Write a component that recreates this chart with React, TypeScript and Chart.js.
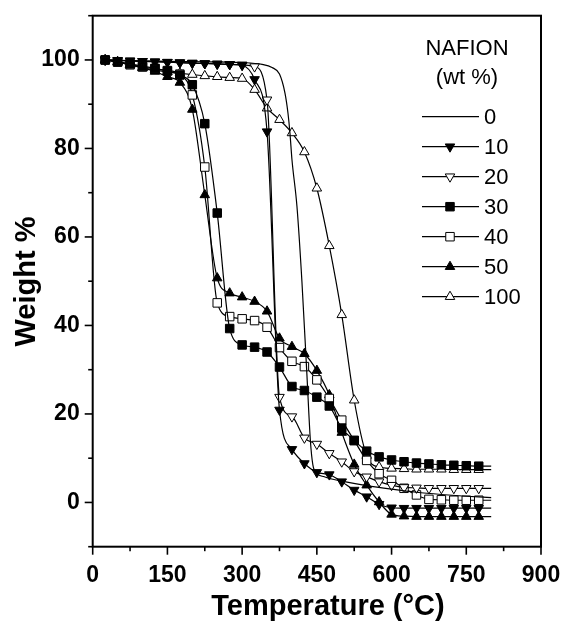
import React, { useEffect, useRef } from 'react';
import { Chart, registerables } from 'chart.js';

Chart.register(...registerables);

// ---------------- data ----------------
const temps = [25, 50, 75, 100, 125, 150, 175, 200, 225, 250, 275, 300, 325, 350, 375, 400, 425, 450, 475, 500, 525, 550, 575, 600, 625, 650, 675, 700, 725, 750, 775, 800];

const wt10 = [100, 99.9, 99.8, 99.7, 99.6, 99.5, 99.4, 99.3, 99.2, 99.1, 99.0, 98.8, 95.6, 83.8, 20.9, 12.0, 8.8, 6.8, 6.3, 4.7, 2.8, 1.3, -0.4, -1.2, -1.3, -1.3, -1.3, -1.3, -1.3, -1.3, -1.3, -1.3];
const wt20 = [100, 99.9, 99.8, 99.7, 99.6, 99.5, 99.4, 99.3, 99.2, 99.1, 99.0, 98.9, 98.5, 91.0, 23.8, 19.4, 14.6, 13.2, 11.1, 9.2, 7.0, 5.8, 4.7, 3.9, 3.4, 3.3, 3.2, 3.2, 3.2, 3.2, 3.2, 3.2];
const wt30 = [100, 99.6, 99.1, 98.6, 98.1, 97.5, 96.6, 94.4, 85.6, 65.4, 39.3, 35.6, 35.1, 34.0, 30.6, 26.2, 25.3, 23.8, 21.8, 16.8, 14.0, 11.6, 10.3, 9.6, 9.2, 8.9, 8.7, 8.5, 8.4, 8.3, 8.2, 8.2];
const wt40 = [100, 99.5, 98.9, 98.4, 98.0, 97.6, 96.8, 92.1, 75.8, 45.1, 42.0, 41.5, 41.1, 39.6, 35.0, 31.9, 30.7, 27.7, 23.5, 18.6, 14.0, 9.5, 6.5, 5.0, 3.2, 1.7, 0.7, 0.6, 0.5, 0.5, 0.5, 0.5];
const wt50 = [100, 99.5, 98.9, 98.2, 97.4, 96.2, 94.9, 88.8, 69.5, 50.7, 47.3, 46.4, 45.4, 43.2, 37.1, 35.2, 33.6, 29.8, 24.3, 15.8, 8.6, 3.9, 0.1, -2.7, -3.1, -3.2, -3.2, -3.2, -3.2, -3.2, -3.2, -3.2];
const wt100 = [100, 99.6, 99.0, 98.3, 97.7, 97.3, 97.0, 96.7, 96.4, 96.2, 96.0, 95.8, 93.3, 89.1, 86.5, 83.5, 79.2, 71.0, 58.0, 42.4, 23.1, 10.6, 8.0, 7.7, 7.6, 7.5, 7.5, 7.5, 7.4, 7.4, 7.4, 7.4];

// 0 wt% curve (line only, no markers)
const temps0 = [25, 100, 200, 300, 340, 360, 375, 386, 392, 396, 400, 410, 420, 430, 437, 442, 450, 465, 480, 500, 550, 600, 650, 700, 750, 800];
const wt0 = [100, 99.8, 99.6, 99.4, 99.0, 98.3, 96.8, 92.5, 88.0, 83.5, 77.5, 67.0, 50.0, 29.0, 14.0, 8.5, 6.6, 5.8, 5.3, 4.8, 3.8, 3.0, 2.3, 1.8, 1.4, 1.1];

const xTickValues = [0, 150, 300, 450, 600, 750, 900];
const yTickValues = [0, 20, 40, 60, 80, 100];
const legendTitle = ['NAFION', '(wt %)'];
const seriesLabels = ['0', '10', '20', '30', '40', '50', '100'];
const xTitle = 'Temperature (°C)';
const yTitle = 'Weight %';

// ---------------- styles ----------------
type Marker = { style: string | false; rotation: number; filled: boolean; radius: number };
const markers: Marker[] = [
  { style: false, rotation: 0, filled: false, radius: 0 },
  { style: 'triangle', rotation: 180, filled: true, radius: 5.5 },
  { style: 'triangle', rotation: 180, filled: false, radius: 5.5 },
  { style: 'rect', rotation: 0, filled: true, radius: 6 },
  { style: 'rect', rotation: 0, filled: false, radius: 6 },
  { style: 'triangle', rotation: 0, filled: true, radius: 5.5 },
  { style: 'triangle', rotation: 0, filled: false, radius: 5.5 },
];
const seriesTemps = [temps0, temps, temps, temps, temps, temps, temps];
const seriesValues = [wt0, wt10, wt20, wt30, wt40, wt50, wt100];

const FONT = '"Liberation Sans", Arial, sans-serif';

function drawMarker(ctx: CanvasRenderingContext2D, m: Marker, x: number, y: number) {
  if (!m.style) return;
  ctx.save();
  ctx.fillStyle = m.filled ? '#000' : '#fff';
  ctx.strokeStyle = '#000';
  ctx.lineWidth = 1;
  ctx.beginPath();
  if (m.style === 'triangle') {
    let rad = (m.rotation * Math.PI) / 180;
    const r = m.radius;
    ctx.moveTo(x + Math.sin(rad) * r, y - Math.cos(rad) * r);
    rad += (2 * Math.PI) / 3;
    ctx.lineTo(x + Math.sin(rad) * r, y - Math.cos(rad) * r);
    rad += (2 * Math.PI) / 3;
    ctx.lineTo(x + Math.sin(rad) * r, y - Math.cos(rad) * r);
    ctx.closePath();
  } else {
    const s = Math.SQRT1_2 * m.radius;
    ctx.rect(x - s, y - s, 2 * s, 2 * s);
  }
  ctx.fill();
  ctx.stroke();
  ctx.restore();
}

const decorPlugin = {
  id: 'decor',
  afterDatasetsDraw(chart: any) {
    const { ctx, chartArea: a, scales } = chart;
    const xs = scales.x;
    const ys = scales.y;
    ctx.save();
    ctx.strokeStyle = '#000';
    ctx.lineWidth = 2;
    ctx.strokeRect(a.left, a.top, a.right - a.left, a.bottom - a.top);
    ctx.lineWidth = 1.6;
    for (let v = 0; v <= 900; v += 75) {
      const px = xs.getPixelForValue(v);
      const len = v % 150 === 0 ? 8 : 4.5;
      ctx.beginPath();
      ctx.moveTo(px, a.bottom);
      ctx.lineTo(px, a.bottom + len);
      ctx.stroke();
    }
    for (let v = -10; v <= 110; v += 10) {
      const py = ys.getPixelForValue(v);
      const len = v % 20 === 0 && v >= 0 && v <= 100 ? 8 : 4.5;
      ctx.beginPath();
      ctx.moveTo(a.left, py);
      ctx.lineTo(a.left - len, py);
      ctx.stroke();
    }
    ctx.restore();
  },
  afterDraw(chart: any) {
    const { ctx } = chart;
    ctx.save();
    ctx.fillStyle = '#000';
    // axis titles
    ctx.font = `bold 29px ${FONT}`;
    ctx.textAlign = 'center';
    ctx.textBaseline = 'alphabetic';
    ctx.fillText(xTitle, 328, 615);
    ctx.save();
    ctx.translate(35, 281.5);
    ctx.rotate(-Math.PI / 2);
    ctx.fillText(yTitle, 0, 0);
    ctx.restore();

    // legend
    ctx.font = `22px ${FONT}`;
    ctx.textAlign = 'center';
    ctx.fillText(legendTitle[0], 467, 55);
    ctx.fillText(legendTitle[1], 467, 83.5);
    ctx.textAlign = 'left';
    ctx.textBaseline = 'middle';
    seriesLabels.forEach((lab, i) => {
      const y = 116.7 + i * 30;
      ctx.strokeStyle = '#000';
      ctx.lineWidth = 1.2;
      ctx.beginPath();
      ctx.moveTo(422, y);
      ctx.lineTo(479, y);
      ctx.stroke();
      drawMarker(ctx, markers[i], 450, y);
      ctx.fillStyle = '#000';
      ctx.fillText(lab, 484, y + 1);
    });
    ctx.restore();
  },
};

export default function App() {
  const ref = useRef<HTMLCanvasElement | null>(null);

  useEffect(() => {
    const prevMargin = document.body.style.margin;
    const prevOverflow = document.body.style.overflow;
    document.body.style.margin = '0';
    document.body.style.overflow = 'hidden';
    const canvas = ref.current;
    if (!canvas) return;

    const datasets = seriesLabels.map((label, i) => {
      const m = markers[i];
      const ts = seriesTemps[i];
      const vs = seriesValues[i];
      return {
        label,
        data: ts.map((t, j) => ({ x: t, y: vs[j] })),
        borderColor: '#000',
        borderWidth: 1.2,
        backgroundColor: m.filled ? '#000' : '#fff',
        pointStyle: m.style || 'circle',
        pointRotation: m.rotation,
        pointRadius: (c: any) => (!m.style || c.dataIndex === ts.length - 1 ? 0 : m.radius),
        pointBackgroundColor: m.filled ? '#000' : '#fff',
        pointBorderColor: '#000',
        pointBorderWidth: 1,
        cubicInterpolationMode: 'monotone' as const,
        fill: false,
      };
    });

    const chart = new Chart(canvas, {
      type: 'line',
      data: { datasets },
      options: {
        responsive: false,
        animation: false,
        events: [],
        layout: { padding: { top: 15.7, right: 20, left: 0, bottom: 0 } },
        plugins: { legend: { display: false }, tooltip: { enabled: false } },
        scales: {
          x: {
            type: 'linear',
            min: 0,
            max: 900,
            afterBuildTicks: (s: any) => {
              s.ticks = xTickValues.map((v) => ({ value: v }));
            },
            afterFit: (s: any) => {
              s.height = 78.3;
              s.paddingLeft = 0;
              s.paddingRight = 0;
            },
            grid: { display: false, drawTicks: false },
            border: { display: false },
            ticks: {
              color: '#000',
              padding: 15,
              maxRotation: 0,
              autoSkip: false,
              font: { family: FONT, size: 23, weight: 'bold' },
            },
          },
          y: {
            type: 'linear',
            min: -10,
            max: 110,
            afterBuildTicks: (s: any) => {
              s.ticks = yTickValues.map((v) => ({ value: v }));
            },
            afterFit: (s: any) => {
              s.width = 92.7;
              s.paddingTop = 0;
              s.paddingBottom = 0;
            },
            grid: { display: false, drawTicks: false },
            border: { display: false },
            ticks: {
              color: '#000',
              padding: 13,
              autoSkip: false,
              font: { family: FONT, size: 23, weight: 'bold' },
            },
          },
        },
      },
      plugins: [decorPlugin],
    });

    return () => {
      chart.destroy();
      document.body.style.margin = prevMargin;
      document.body.style.overflow = prevOverflow;
    };
  }, []);

  return (
    <div style={{ width: 561, height: 625, background: '#fff' }}>
      <canvas ref={ref} width={561} height={625} style={{ display: 'block' }} />
    </div>
  );
}
